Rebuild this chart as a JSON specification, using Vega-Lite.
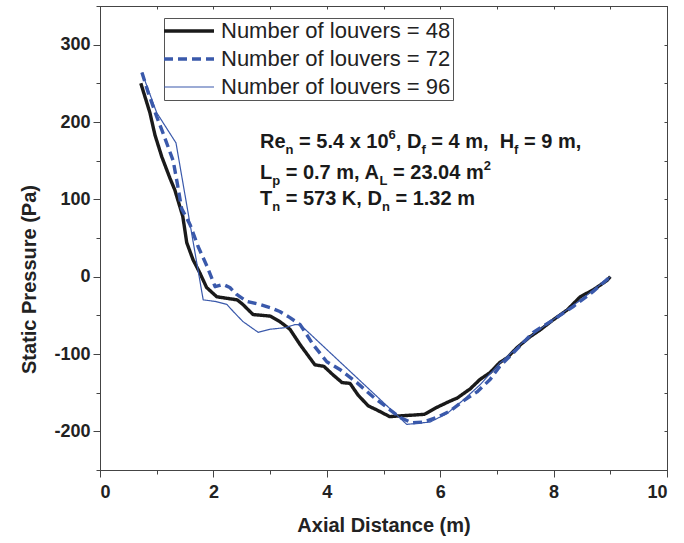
{
  "$schema": "https://vega.github.io/schema/vega-lite/v6.json",
  "width": 567,
  "height": 464,
  "autosize": {"type": "none"},
  "padding": {"left": 100, "top": 6, "right": 17, "bottom": 73},
  "background": "white",
  "config": {
    "font": "Liberation Sans",
    "view": {"stroke": "#444", "strokeWidth": 1},
    "axis": {
      "domainColor": "#444",
      "tickColor": "#444",
      "labelFont": "Liberation Sans",
      "labelFontWeight": "bold",
      "labelFontSize": 18,
      "labelColor": "#222",
      "titleFont": "Liberation Sans",
      "titleFontWeight": "bold",
      "titleFontSize": 20,
      "titleColor": "#222",
      "grid": false
    }
  },
  "datasets": {
    "pressure": [
      {"louvers": "48", "x": 0.72, "p": 250}, {"louvers": "48", "x": 0.88, "p": 212}, {"louvers": "48", "x": 0.97, "p": 183},
      {"louvers": "48", "x": 1.09, "p": 155}, {"louvers": "48", "x": 1.23, "p": 128}, {"louvers": "48", "x": 1.32, "p": 112},
      {"louvers": "48", "x": 1.46, "p": 78}, {"louvers": "48", "x": 1.53, "p": 44}, {"louvers": "48", "x": 1.64, "p": 22},
      {"louvers": "48", "x": 1.76, "p": 5}, {"louvers": "48", "x": 1.88, "p": -14}, {"louvers": "48", "x": 2.06, "p": -26},
      {"louvers": "48", "x": 2.24, "p": -28}, {"louvers": "48", "x": 2.42, "p": -30}, {"louvers": "48", "x": 2.52, "p": -36},
      {"louvers": "48", "x": 2.7, "p": -49}, {"louvers": "48", "x": 2.86, "p": -50}, {"louvers": "48", "x": 3.0, "p": -51},
      {"louvers": "48", "x": 3.17, "p": -58}, {"louvers": "48", "x": 3.35, "p": -68}, {"louvers": "48", "x": 3.53, "p": -88},
      {"louvers": "48", "x": 3.79, "p": -114}, {"louvers": "48", "x": 3.95, "p": -116}, {"louvers": "48", "x": 4.11, "p": -127},
      {"louvers": "48", "x": 4.27, "p": -137}, {"louvers": "48", "x": 4.41, "p": -138}, {"louvers": "48", "x": 4.55, "p": -153},
      {"louvers": "48", "x": 4.73, "p": -167}, {"louvers": "48", "x": 4.9, "p": -173}, {"louvers": "48", "x": 5.11, "p": -181},
      {"louvers": "48", "x": 5.29, "p": -180}, {"louvers": "48", "x": 5.52, "p": -179}, {"louvers": "48", "x": 5.72, "p": -178},
      {"louvers": "48", "x": 5.94, "p": -169}, {"louvers": "48", "x": 6.17, "p": -161}, {"louvers": "48", "x": 6.3, "p": -157},
      {"louvers": "48", "x": 6.53, "p": -145}, {"louvers": "48", "x": 6.7, "p": -133}, {"louvers": "48", "x": 6.88, "p": -124},
      {"louvers": "48", "x": 7.05, "p": -111}, {"louvers": "48", "x": 7.18, "p": -105}, {"louvers": "48", "x": 7.35, "p": -92},
      {"louvers": "48", "x": 7.58, "p": -78}, {"louvers": "48", "x": 7.76, "p": -69}, {"louvers": "48", "x": 7.99, "p": -56},
      {"louvers": "48", "x": 8.24, "p": -43}, {"louvers": "48", "x": 8.47, "p": -26}, {"louvers": "48", "x": 8.7, "p": -17},
      {"louvers": "48", "x": 8.94, "p": -5}, {"louvers": "48", "x": 9.0, "p": 0},

      {"louvers": "72", "x": 0.74, "p": 264}, {"louvers": "72", "x": 0.85, "p": 238}, {"louvers": "72", "x": 1.0, "p": 207},
      {"louvers": "72", "x": 1.11, "p": 186}, {"louvers": "72", "x": 1.29, "p": 150}, {"louvers": "72", "x": 1.36, "p": 122},
      {"louvers": "72", "x": 1.44, "p": 88}, {"louvers": "72", "x": 1.59, "p": 67}, {"louvers": "72", "x": 1.73, "p": 39},
      {"louvers": "72", "x": 1.89, "p": 13}, {"louvers": "72", "x": 2.03, "p": -13}, {"louvers": "72", "x": 2.17, "p": -10},
      {"louvers": "72", "x": 2.29, "p": -14}, {"louvers": "72", "x": 2.41, "p": -23}, {"louvers": "72", "x": 2.59, "p": -32},
      {"louvers": "72", "x": 2.82, "p": -36}, {"louvers": "72", "x": 3.0, "p": -40}, {"louvers": "72", "x": 3.17, "p": -45},
      {"louvers": "72", "x": 3.35, "p": -53}, {"louvers": "72", "x": 3.53, "p": -62}, {"louvers": "72", "x": 3.76, "p": -88},
      {"louvers": "72", "x": 4.0, "p": -110}, {"louvers": "72", "x": 4.23, "p": -120}, {"louvers": "72", "x": 4.53, "p": -137},
      {"louvers": "72", "x": 4.81, "p": -155}, {"louvers": "72", "x": 5.06, "p": -169}, {"louvers": "72", "x": 5.29, "p": -182},
      {"louvers": "72", "x": 5.5, "p": -189}, {"louvers": "72", "x": 5.7, "p": -188}, {"louvers": "72", "x": 5.94, "p": -182},
      {"louvers": "72", "x": 6.17, "p": -174}, {"louvers": "72", "x": 6.4, "p": -161}, {"louvers": "72", "x": 6.65, "p": -149},
      {"louvers": "72", "x": 6.88, "p": -133}, {"louvers": "72", "x": 7.05, "p": -116}, {"louvers": "72", "x": 7.35, "p": -94},
      {"louvers": "72", "x": 7.64, "p": -72}, {"louvers": "72", "x": 7.99, "p": -56}, {"louvers": "72", "x": 8.34, "p": -39},
      {"louvers": "72", "x": 8.7, "p": -19}, {"louvers": "72", "x": 9.0, "p": 0},

      {"louvers": "96", "x": 0.74, "p": 264}, {"louvers": "96", "x": 1.0, "p": 212}, {"louvers": "96", "x": 1.34, "p": 173},
      {"louvers": "96", "x": 1.82, "p": -30}, {"louvers": "96", "x": 2.03, "p": -32}, {"louvers": "96", "x": 2.24, "p": -36},
      {"louvers": "96", "x": 2.35, "p": -45}, {"louvers": "96", "x": 2.52, "p": -58}, {"louvers": "96", "x": 2.79, "p": -72},
      {"louvers": "96", "x": 3.0, "p": -68}, {"louvers": "96", "x": 3.26, "p": -66}, {"louvers": "96", "x": 3.44, "p": -62},
      {"louvers": "96", "x": 3.53, "p": -62}, {"louvers": "96", "x": 5.41, "p": -191}, {"louvers": "96", "x": 5.82, "p": -188},
      {"louvers": "96", "x": 6.12, "p": -177}, {"louvers": "96", "x": 6.4, "p": -160}, {"louvers": "96", "x": 6.7, "p": -140},
      {"louvers": "96", "x": 7.05, "p": -112}, {"louvers": "96", "x": 7.5, "p": -82}, {"louvers": "96", "x": 8.0, "p": -55},
      {"louvers": "96", "x": 8.5, "p": -29}, {"louvers": "96", "x": 9.0, "p": 0}
    ],
    "note": [
      {"t": "Re", "x": 2.822, "y": 166.4, "k": "b"},
      {"t": "n", "x": 3.273, "y": 166.4, "k": "s"},
      {"t": "= 5.4 x 10", "x": 3.511, "y": 166.4, "k": "b"},
      {"t": "6", "x": 5.088, "y": 166.4, "k": "p"},
      {"t": ", D", "x": 5.217, "y": 166.4, "k": "b"},
      {"t": "f", "x": 5.668, "y": 166.4, "k": "s"},
      {"t": "= 4 m,", "x": 5.843, "y": 166.4, "k": "b"},
      {"t": "H", "x": 7.049, "y": 166.4, "k": "b"},
      {"t": "f", "x": 7.303, "y": 166.4, "k": "s"},
      {"t": "= 9 m,", "x": 7.478, "y": 166.4, "k": "b"},

      {"t": "L", "x": 2.822, "y": 126.3, "k": "b"},
      {"t": "p", "x": 3.037, "y": 126.3, "k": "s"},
      {"t": "= 0.7 m, A", "x": 3.275, "y": 126.3, "k": "b"},
      {"t": "L", "x": 4.931, "y": 126.3, "k": "s"},
      {"t": "= 23.04 m", "x": 5.169, "y": 126.3, "k": "b"},
      {"t": "2", "x": 6.767, "y": 126.3, "k": "p"},

      {"t": "T", "x": 2.822, "y": 92.7, "k": "b"},
      {"t": "n", "x": 3.037, "y": 92.7, "k": "s"},
      {"t": "= 573 K, D", "x": 3.275, "y": 92.7, "k": "b"},
      {"t": "n", "x": 4.972, "y": 92.7, "k": "s"},
      {"t": "= 1.32 m", "x": 5.21, "y": 92.7, "k": "b"}
    ]
  },
  "resolve": {"axis": {"x": "independent", "y": "independent"}},
  "layer": [
    {
      "data": {"name": "pressure"},
      "mark": {"type": "line", "strokeCap": "butt", "strokeJoin": "round"},
      "encoding": {
        "x": {
          "field": "x", "type": "quantitative",
          "scale": {"domain": [0, 10], "nice": false, "zero": false},
          "axis": {
            "title": "Axial Distance (m)",
            "values": [0, 1, 2, 3, 4, 5, 6, 7, 8, 9, 10],
            "labelExpr": "datum.value % 2 === 0 ? '' + datum.value : ''",
            "tickSize": {"condition": {"test": "datum.value % 2 === 0", "value": 7}, "value": 4},
            "labelPadding": 6,
            "titlePadding": 14
          }
        },
        "y": {
          "field": "p", "type": "quantitative",
          "scale": {"domain": [-250, 350], "nice": false, "zero": false},
          "axis": {
            "title": "Static Pressure (Pa)",
            "values": [-250, -200, -150, -100, -50, 0, 50, 100, 150, 200, 250, 300, 350],
            "labelExpr": "datum.value % 100 === 0 ? '' + datum.value : ''",
            "tickSize": {"condition": {"test": "datum.value % 100 === 0", "value": 7}, "value": 4},
            "labelPadding": 3,
            "titlePadding": 14,
            "titleY": 273
          }
        },
        "color": {
          "field": "louvers", "type": "nominal",
          "scale": {"domain": ["48", "72", "96"], "range": ["#1a1a1a", "#3a59ab", "#3a59ab"]},
          "legend": {
            "title": null,
            "orient": "none",
            "legendX": 64,
            "legendY": 12,
            "padding": 2,
            "strokeColor": "#555",
            "fillColor": "white",
            "symbolType": "M-2,0H2",
            "symbolSize": 625,
            "symbolOffset": 12,
            "labelOffset": 21,
            "labelFont": "Liberation Sans",
            "labelFontSize": 22,
            "labelColor": "#222",
            "labelLimit": 400,
            "rowPadding": 6,
            "labelExpr": "'Number of louvers = ' + datum.label",
            "encode": {
              "symbols": {
                "update": {"strokeWidth": {"signal": "datum.value === '96' ? 1.2 : 3.4"}}
              }
            }
          }
        },
        "strokeDash": {
          "field": "louvers", "type": "nominal",
          "scale": {"domain": ["48", "72", "96"], "range": [[1, 0], [9, 5], [1, 0]]},
          "legend": null
        },
        "strokeWidth": {
          "condition": {"test": "datum.louvers === '96'", "value": 1.2},
          "value": 3.4
        }
      }
    },
    {
      "data": {"name": "note"},
      "transform": [{"filter": "datum.k === 'b'"}],
      "mark": {"type": "text", "align": "left", "baseline": "alphabetic", "font": "Liberation Sans", "fontWeight": "bold", "fontSize": 20, "color": "#1a1a1a"},
      "encoding": {
        "x": {
          "field": "x", "type": "quantitative",
          "axis": {"orient": "top", "title": null, "labels": false, "values": [0, 1, 2, 3, 4, 5, 6, 7, 8, 9, 10], "tickSize": -3}
        },
        "y": {
          "field": "y", "type": "quantitative",
          "axis": {"orient": "right", "title": null, "labels": false, "values": [-250, -200, -150, -100, -50, 0, 50, 100, 150, 200, 250, 300, 350], "tickSize": -3}
        },
        "text": {"field": "t"}
      }
    },
    {
      "data": {"name": "note"},
      "transform": [{"filter": "datum.k === 's'"}],
      "mark": {"type": "text", "align": "left", "baseline": "alphabetic", "font": "Liberation Sans", "fontWeight": "bold", "fontSize": 13, "dy": 6, "color": "#1a1a1a"},
      "encoding": {
        "x": {"field": "x", "type": "quantitative", "axis": null},
        "y": {"field": "y", "type": "quantitative", "axis": null},
        "text": {"field": "t"}
      }
    },
    {
      "data": {"name": "note"},
      "transform": [{"filter": "datum.k === 'p'"}],
      "mark": {"type": "text", "align": "left", "baseline": "alphabetic", "font": "Liberation Sans", "fontWeight": "bold", "fontSize": 13, "dy": -9, "color": "#1a1a1a"},
      "encoding": {
        "x": {"field": "x", "type": "quantitative", "axis": null},
        "y": {"field": "y", "type": "quantitative", "axis": null},
        "text": {"field": "t"}
      }
    }
  ]
}
